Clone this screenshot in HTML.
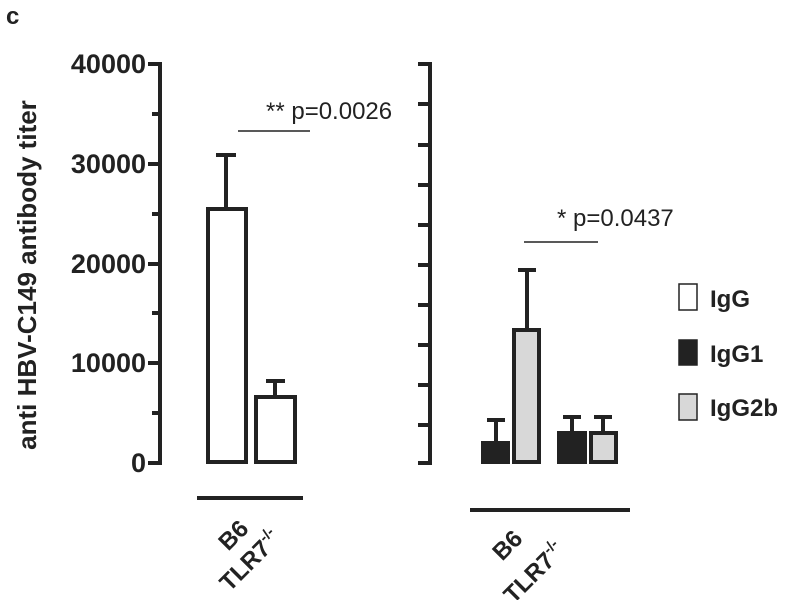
<!DOCTYPE html><html><head><style>body{margin:0;background:#fff}</style></head><body>
<svg width="800" height="600" xmlns="http://www.w3.org/2000/svg" font-family="Liberation Sans, sans-serif">
<text x="6" y="24" font-size="24" font-weight="bold" fill="#222">c</text>
<text transform="translate(36,275) rotate(-90)" text-anchor="middle" font-size="26" font-weight="bold" fill="#222">anti HBV-C149 antibody titer</text>
<g stroke="#222" stroke-width="4" fill="none">
<line x1="160" y1="62" x2="160" y2="465"/>
<line x1="148" y1="64" x2="160" y2="64"/><line x1="148" y1="164" x2="160" y2="164"/><line x1="148" y1="264" x2="160" y2="264"/><line x1="148" y1="363" x2="160" y2="363"/><line x1="148" y1="463" x2="160" y2="463"/>
<line x1="152" y1="114" x2="160" y2="114"/><line x1="152" y1="214" x2="160" y2="214"/><line x1="152" y1="313" x2="160" y2="313"/><line x1="152" y1="413" x2="160" y2="413"/>
<line x1="430" y1="62" x2="430" y2="465"/>
<line x1="418" y1="64" x2="430" y2="64"/><line x1="418" y1="104" x2="430" y2="104"/><line x1="418" y1="145" x2="430" y2="145"/><line x1="418" y1="185" x2="430" y2="185"/><line x1="418" y1="225" x2="430" y2="225"/><line x1="418" y1="265" x2="430" y2="265"/><line x1="418" y1="305" x2="430" y2="305"/><line x1="418" y1="345" x2="430" y2="345"/><line x1="418" y1="385" x2="430" y2="385"/><line x1="418" y1="425" x2="430" y2="425"/><line x1="418" y1="463" x2="430" y2="463"/>
<rect x="208" y="209" width="38" height="253" fill="#fff"/>
<line x1="226" y1="209" x2="226" y2="155"/><line x1="216" y1="155" x2="236" y2="155"/>
<rect x="256" y="397" width="39" height="65" fill="#fff"/>
<line x1="275" y1="397" x2="275" y2="381"/><line x1="266" y1="381" x2="285" y2="381"/>
<line x1="197" y1="498" x2="303" y2="498"/>
<line x1="496" y1="442" x2="496" y2="420"/><line x1="487" y1="420" x2="505" y2="420"/>
<line x1="527" y1="330" x2="527" y2="270"/><line x1="518" y1="270" x2="536" y2="270"/>
<line x1="572" y1="432" x2="572" y2="417"/><line x1="563" y1="417" x2="581" y2="417"/>
<line x1="603" y1="432" x2="603" y2="417"/><line x1="594" y1="417" x2="612" y2="417"/>
<rect x="514" y="330" width="25" height="132" fill="#d8d8d8"/>
<rect x="591" y="433" width="25" height="29" fill="#d8d8d8"/>
<line x1="470" y1="510" x2="630" y2="510"/>
</g>
<rect x="481" y="441" width="29" height="23" fill="#222"/>
<rect x="557" y="431" width="30" height="33" fill="#222"/>
<g stroke="#222" stroke-width="1.5"><line x1="238" y1="131" x2="310" y2="131"/><line x1="524" y1="242" x2="598" y2="242"/></g>
<g font-size="27" font-weight="bold" fill="#222" text-anchor="end">
<text x="146" y="73">40000</text><text x="146" y="173">30000</text><text x="146" y="273">20000</text><text x="146" y="372">10000</text><text x="146" y="472">0</text></g>
<g font-size="24" fill="#222"><text x="266" y="119">** p=0.0026</text><text x="557" y="226">* p=0.0437</text></g>
<g stroke="#222" stroke-width="1.5"><rect x="679" y="284" width="18" height="26" fill="#fff"/><rect x="679" y="340" width="18" height="25" fill="#222"/><rect x="679" y="394" width="18" height="26" fill="#d8d8d8"/></g>
<g font-size="24" font-weight="bold" fill="#222"><text x="710" y="307">IgG</text><text x="710" y="362">IgG1</text><text x="710" y="416">IgG2b</text></g>
<g font-size="24" font-weight="bold" fill="#222" text-anchor="end">
<text transform="translate(250,530) rotate(-45)">B6</text>
<text transform="translate(282,540) rotate(-45)">TLR7<tspan font-size="15" dy="-10">-/-</tspan></text>
<text transform="translate(524,540) rotate(-45)">B6</text>
<text transform="translate(566,552) rotate(-45)">TLR7<tspan font-size="15" dy="-10">-/-</tspan></text>
</g>
</svg></body></html>
